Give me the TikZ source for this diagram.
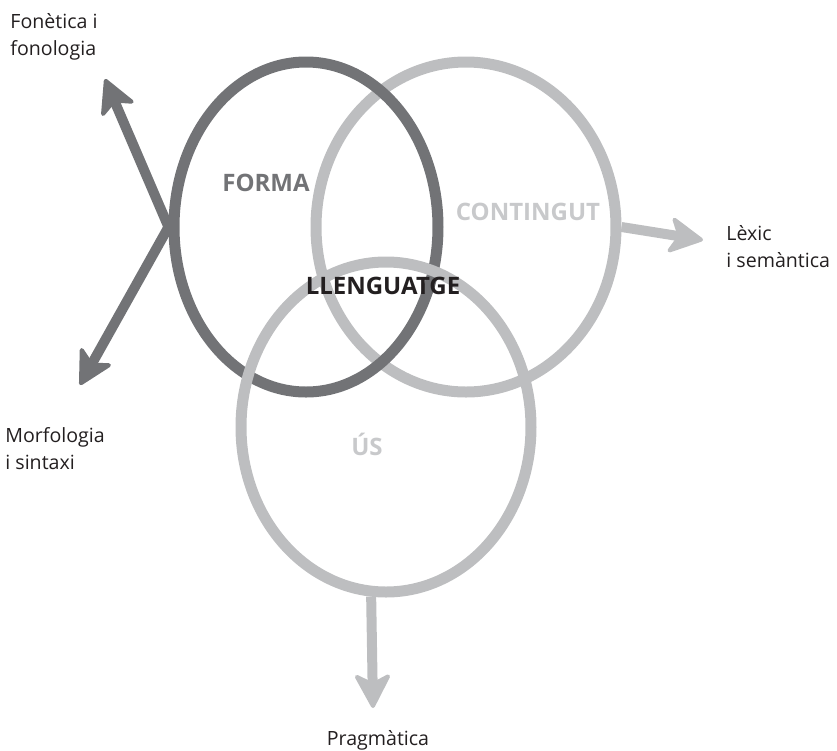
\documentclass[tikz,border=0pt]{standalone}
\usepackage{fontspec}
\setmainfont{Open Sans}
\usetikzlibrary{shapes.geometric,arrows.meta}
\definecolor{fosc}{RGB}{114,115,118}
\definecolor{clar}{RGB}{189,190,192}
\definecolor{claret}{RGB}{200,201,203}
\definecolor{tinta}{RGB}{35,31,32}
\tikzset{
	cercle/.style={ellipse, draw, line width=5.5pt, inner sep=0pt, minimum height=165pt},
	fletxa/.style={line width=5pt, -{Stealth[length=19pt, width=20pt, inset=5pt, round, line width=2pt]}},
	rotul/.style={font=\fontsize{9.8}{13.5}\selectfont, text=tinta, inner sep=0pt},
	etiqueta/.style={font=\fontsize{12}{13}\selectfont\bfseries, inner sep=0pt, anchor=base}
}
\begin{document}
\begin{tikzpicture}[x=0.5pt, y=-0.5pt]
		\useasboundingbox (0,0) rectangle (837,751);
		
		%Els tres cercles
		\node[cercle, draw=clar, minimum width=150pt] (contingut) at (466,227) {};
		\node[cercle, draw=fosc, minimum width=132pt] (forma) at (306,227) {};
		\node[cercle, draw=clar, minimum width=145pt] (us) at (386,427) {};
		
		%Puntes de les fletxes
		\coordinate (fon) at (105,79);
		\coordinate (mor) at (80,385);
		\coordinate (lex) at (703,240);
		\coordinate (pra) at (373,708);
		
		%Fletxes
		\draw[fletxa, fosc] (forma.west) -- (fon);
		\draw[fletxa, fosc] (forma.west) -- (mor);
		\draw[fletxa, clar] (contingut.east) -- (lex);
		\draw[fletxa, clar] (us.-95) -- (pra);
		
		%Texts (base = darrera linia)
		\node[rotul, anchor=base west, align=left] (fonetica) at (10,55) {Fonètica i\\fonologia};
		\node[rotul, anchor=base west, align=left] (morfologia) at (5,469) {Morfologia\\i sintaxi};
		\node[rotul, anchor=base west, align=left] (lexic) at (726,267) {Lèxic\\i semàntica};
		\node[rotul, anchor=base] (pragmatica) at (378,745) {Pragmàtica};
		
		\node[etiqueta, text=fosc] (tforma) at (266,191) {FORMA};
		\node[etiqueta, text=claret] (tcontingut) at (528,220) {CONTINGUT};
		\node[etiqueta, text=claret] (tus) at (367,455) {ÚS};
		\node[etiqueta, text=tinta] (tllenguatge) at (383,294) {LLENGUATGE};
	\end{tikzpicture}
\end{document}
